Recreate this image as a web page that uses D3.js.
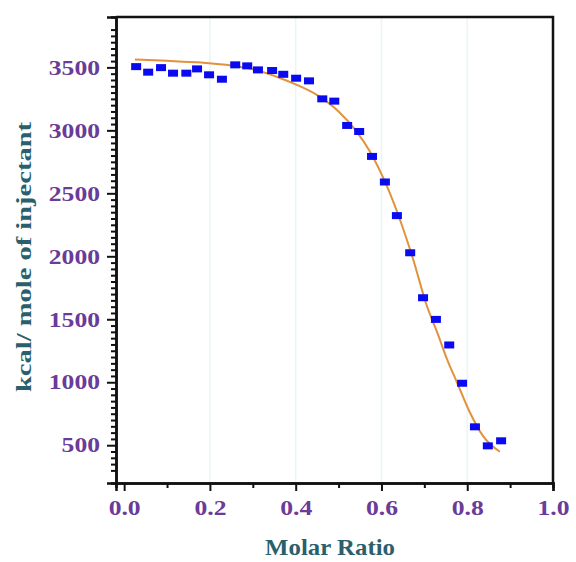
<!DOCTYPE html>
<html>
<head>
<meta charset="utf-8">
<title>ITC fit</title>
<style>
body { margin: 0; background: #fff; }
svg { display: block; }
.lbl text {
  font-family: "Liberation Serif", "Times New Roman", serif;
  font-weight: bold;
  font-size: 21px;
  fill: #6a3b98;
}
.title {
  font-family: "Liberation Serif", "Times New Roman", serif;
  font-weight: bold;
  fill: #2b5f6c;
}
</style>
</head>
<body>
<svg></svg>
<script src="https://d3js.org/d3.v7.min.js"></script>
<script>
// measured points: molar ratio / kcal per mole of injectant
const ratio = [0.028, 0.056, 0.086, 0.114, 0.145, 0.170, 0.198, 0.228, 0.259, 0.287,
               0.312, 0.345, 0.371, 0.401, 0.431, 0.462, 0.490, 0.520, 0.548, 0.578,
               0.608, 0.636, 0.667, 0.697, 0.727, 0.758, 0.788, 0.818, 0.848, 0.879];
const heat = [3506, 3462, 3498, 3454, 3454, 3488, 3441, 3406, 3520, 3512,
              3480, 3475, 3445, 3414, 3393, 3250, 3232, 3039, 2991, 2793,
              2590, 2323, 2028, 1671, 1499, 1296, 992, 646, 495, 535];

// fitted curve
const fitX = [0.025, 0.10, 0.18, 0.25, 0.30, 0.36, 0.40, 0.45, 0.50, 0.54,
              0.573, 0.613, 0.643, 0.674, 0.706, 0.730, 0.753, 0.776, 0.806, 0.837, 0.876];
const fitY = [3562, 3552, 3538, 3515, 3485, 3420, 3365, 3280, 3150, 3000,
              2833, 2555, 2292, 1975, 1605, 1396, 1182, 1000, 762, 572, 448];

const xMajor = [0, 0.2, 0.4, 0.6, 0.8, 1.0];
const xMinor = [0.1, 0.3, 0.5, 0.7, 0.9];
const yMajor = [500, 1000, 1500, 2000, 2500, 3000, 3500];
const yMinor = d3.range(300, 3801, 50).filter(v => v % 500 !== 0);

const W = 576, H = 562;
const margin = { top: 17, right: 23, bottom: 79, left: 116 };

const svg = d3.select('svg').attr('width', W).attr('height', H);

const x = d3.scaleLinear([-0.019, 1.0], [margin.left, W - margin.right]);
const y = d3.scaleLinear([200, 3900], [H - margin.bottom, margin.top]);

// faint grid
svg.append('g')
   .selectAll('line')
   .data(xMajor.slice(1, -1))
   .join('line')
   .attr('x1', d => x(d)).attr('x2', d => x(d))
   .attr('y1', margin.top).attr('y2', H - margin.bottom)
   .attr('stroke', '#eaf6f6').attr('stroke-width', 1.5);

// frame top/right
svg.append('path')
   .attr('d', `M${margin.left},${margin.top}H${W - margin.right}V${H - margin.bottom}`)
   .attr('fill', 'none').attr('stroke', '#111').attr('stroke-width', 2.5);

const stretch = (sel, k) => sel.selectAll('text').each(function() {
  const w = this.getComputedTextLength();
  d3.select(this).attr('textLength', w * k).attr('lengthAdjust', 'spacingAndGlyphs');
});

// x axis
const gx = svg.append('g').attr('class', 'lbl')
   .attr('transform', `translate(0,${H - margin.bottom})`);
gx.call(d3.axisBottom(x).tickValues(xMinor).tickSize(5).tickFormat(''));
gx.append('g').call(d3.axisBottom(x).tickValues(xMajor).tickSize(8).tickPadding(9)
   .tickFormat(d3.format('.1f')));
gx.selectAll('.domain').attr('stroke-width', 2.5).attr('stroke', '#111');
gx.selectAll('.tick line').attr('stroke-width', 2).attr('stroke', '#111');
gx.selectAll('text').attr('dy', '0.71em');
stretch(gx, 1.22);

// y axis
const gy = svg.append('g').attr('class', 'lbl')
   .attr('transform', `translate(${margin.left},0)`);
gy.call(d3.axisLeft(y).tickValues(yMinor).tickSize(5).tickFormat(''));
gy.append('g').call(d3.axisLeft(y).tickValues(yMajor).tickSize(9).tickPadding(7)
   .tickFormat(d3.format('d')));
gy.selectAll('.domain').attr('stroke-width', 2.5).attr('stroke', '#111');
gy.selectAll('.tick line').attr('stroke-width', 2).attr('stroke', '#111');
stretch(gy, 1.22);

// fit line
const fit = fitX.map((v, i) => [v, fitY[i]]);
svg.append('path')
   .attr('fill', 'none')
   .attr('stroke', '#e0923c')
   .attr('stroke-width', 2)
   .attr('d', d3.line().x(d => x(d[0])).y(d => y(d[1])).curve(d3.curveMonotoneX)(fit));

// points
svg.append('g')
   .selectAll('rect')
   .data(ratio.map((v, i) => [v, heat[i]]))
   .join('rect')
   .attr('x', d => x(d[0]) - 5).attr('y', d => y(d[1]) - 3.5)
   .attr('width', 10).attr('height', 7)
   .attr('fill', '#0a0af0');

// titles
svg.append('text').attr('class', 'title')
   .attr('x', 330).attr('y', 555)
   .attr('text-anchor', 'middle')
   .style('font-size', '23px')
   .attr('textLength', 130).attr('lengthAdjust', 'spacingAndGlyphs')
   .text('Molar Ratio');

svg.append('text').attr('class', 'title')
   .attr('transform', 'translate(31,257) rotate(-90)')
   .attr('text-anchor', 'middle')
   .style('font-size', '22px')
   .attr('textLength', 270).attr('lengthAdjust', 'spacingAndGlyphs')
   .text('kcal/ mole of injectant');
</script>
</body>
</html>
